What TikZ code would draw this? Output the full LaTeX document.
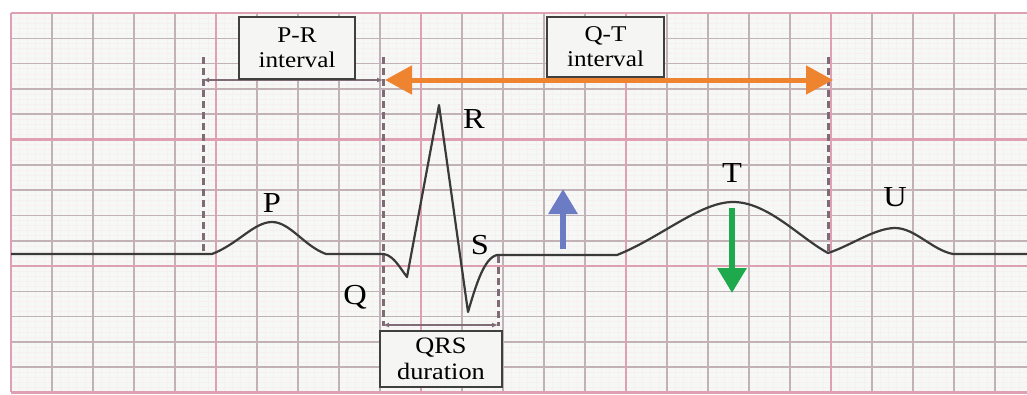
\documentclass[tikz,border=0pt]{standalone}
\usepackage{fontspec}
\setmainfont{Liberation Serif}[FakeStretch=1.12]
\usetikzlibrary{arrows.meta}
\definecolor{bgc}{HTML}{F6F8F6}
\definecolor{minorc}{HTML}{C2B2B7}
\definecolor{majorc}{HTML}{DFA0B4}
\definecolor{faintc}{HTML}{F7F0F2}
\definecolor{dashc}{HTML}{7E6B75}
\definecolor{tracec}{HTML}{3A3A3A}
\definecolor{qtorange}{HTML}{EE8430}
\definecolor{upblue}{HTML}{6B7CC4}
\definecolor{downgreen}{HTML}{1EAA4C}
\definecolor{boxfill}{HTML}{F5F5F3}
\tikzset{
  minorline/.style={minorc, line width=1.6pt},
  majorline/.style={majorc, line width=2.2pt},
  faintline/.style={faintc, line width=0.4pt},
  dashline/.style={dashc, line width=3pt, dash pattern=on 7pt off 4pt},
  trace/.style={tracec, line width=2.2pt, line join=round},
  measure/.style={dashc, line width=1.3pt, {Latex[length=6pt,width=5pt]}-{Latex[length=6pt,width=5pt]}},
  qtarrow/.style={qtorange, line width=5pt, {Triangle[length=27pt,width=28pt]}-{Triangle[length=27pt,width=28pt]}},
  bigarrow/.style={line width=6pt, -{Triangle[length=25pt,width=28pt]}},
  lbl/.style={font=\fontsize{29}{32}\selectfont, text=black, inner sep=0pt},
  infobox/.style={draw=black!75, line width=1.8pt, fill=boxfill, align=center, inner sep=0pt,
    font=\fontsize{22.5}{26}\selectfont},
}
\begin{document}
\begin{tikzpicture}[x=1pt,y=-1pt]
\useasboundingbox (0,0) rectangle (1027,394);
\fill[white] (0,0) rectangle (1027,394);
\fill[bgc] (11,13) rectangle (1027,392);
% faint sub grid
\foreach \i in {0,...,125} { \draw[faintline] ({11+8.2*\i},13) -- ({11+8.2*\i},392); }
\foreach \j in {0,...,75} { \draw[faintline] (11,{13+5.06*\j}) -- (1027,{13+5.06*\j}); }
% minor grid
\foreach \i in {0,...,25} { \draw[minorline] ({11+41*\i},13) -- ({11+41*\i},392); }
\foreach \j in {0,...,15} { \draw[minorline] (11,{13+25.3*\j}) -- (1027,{13+25.3*\j}); }
% major grid
\foreach \i in {0,5,...,25} { \draw[majorline] ({11+41*\i},13) -- ({11+41*\i},392); }
\foreach \j in {0,5,...,15} { \draw[majorline] (11,{13+25.3*\j}) -- (1027,{13+25.3*\j}); }

% coordinates
\coordinate (d1t) at (203,57);  \coordinate (d1b) at (203,251);
\coordinate (d2t) at (383,57);  \coordinate (d2b) at (383,326);
\coordinate (d3t) at (498,256); \coordinate (d3b) at (498,326);
\coordinate (d4t) at (828,57);  \coordinate (d4b) at (828,251);
\coordinate (prL) at (203,80);  \coordinate (prR) at (383,80);
\coordinate (qtL) at (385,80);  \coordinate (qtR) at (833,80);
\coordinate (qrsL) at (383,325); \coordinate (qrsR) at (498,325);
\coordinate (upS) at (563,249); \coordinate (upE) at (563,189);
\coordinate (dnS) at (732,208); \coordinate (dnE) at (732,293);

% dashed markers
\draw[dashline] (d1t) -- (d1b);
\draw[dashline] (d2t) -- (d2b);
\draw[dashline] (d3t) -- (d3b);
\draw[dashline] (d4t) -- (d4b);

% measurement arrows
\draw[measure] (prL) -- (prR);
\draw[measure] (qrsL) -- (qrsR);

% ECG trace
\draw[trace] (11,254) -- (212,254)
  .. controls (238,244) and (254,222) .. (272,222)
  .. controls (290,222) and (304,246) .. (326,254)
  -- (384,254)
  .. controls (394,256) and (400,268) .. (407,277)
  -- (439,105) -- (468,312)
  .. controls (476,285) and (484,258) .. (497,255)
  -- (617,255)
  .. controls (660,238) and (700,202) .. (733,202)
  .. controls (768,202) and (800,238) .. (828,253)
  .. controls (850,246) and (875,228) .. (895,228)
  .. controls (915,228) and (932,250) .. (953,254)
  -- (1027,254);

% Q-T arrow
\draw[qtarrow] (qtL) -- (qtR);

% up / down arrows
\draw[bigarrow, upblue] (upS) -- (upE);
\draw[bigarrow, downgreen] (dnS) -- (dnE);

% boxes
\node[infobox, minimum width=116pt, minimum height=62pt] (prbox) at (297,48) {P-R\\[-1pt]interval};
\node[infobox, minimum width=117pt, minimum height=60pt] (qtbox) at (605.5,47) {Q-T\\[-1pt]interval};
\node[infobox, minimum width=122pt, minimum height=56pt, font=\fontsize{23.5}{27}\selectfont] (qrsbox) at (441,359) {QRS\\[-1pt]duration};

% wave labels
\node[lbl] (lp) at (272,203) {P};
\node[lbl] (lq) at (355,297) {Q};
\node[lbl] (lr) at (474,119) {R};
\node[lbl] (ls) at (480,245) {S};
\node[lbl] (lt) at (732,173) {T};
\node[lbl] (lu) at (895,197) {U};
\end{tikzpicture}
\end{document}
